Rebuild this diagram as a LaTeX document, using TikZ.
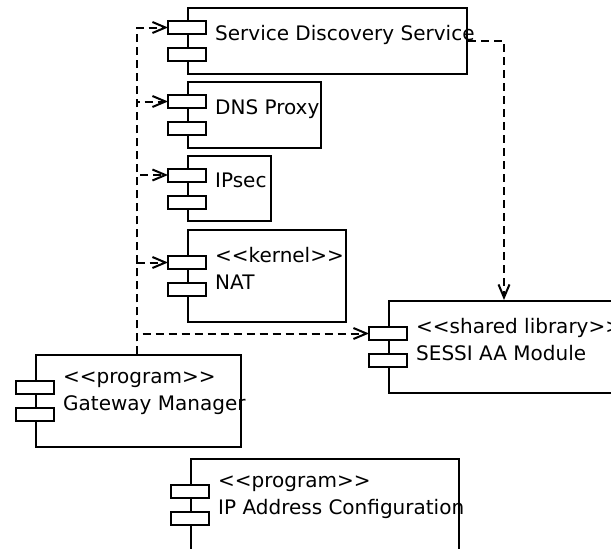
\documentclass[tikz,border=0pt]{standalone}
\usepackage{fontspec}
\newfontfamily\umlfont{DejaVu Sans}
\usetikzlibrary{arrows.meta, calc}

\tikzset{
  comp/.style={draw, rectangle, line width=2pt, anchor=north west, inner sep=0pt,
    label={[anchor=north west, xshift=28pt, yshift=-18pt, align=left, inner sep=0pt,
      font=\umlfont\fontsize{20}{27}\selectfont]north west:#1}},
  tab/.style={draw, line width=2pt, fill=white},
  dep/.style={line width=2pt, dash pattern=on 8pt off 5pt,
    -{Straight Barb[length=13pt, width=11pt]}}
}

\begin{document}
\begin{tikzpicture}[x=1pt, y=-1pt]
    \useasboundingbox (0,0) rectangle (611,549);
    \clip (0,0) rectangle (611,549);
    % Components
    \node[comp={Service Discovery Service}, minimum width=279pt, minimum height=66pt] (sds) at (187,7) {};
    \node[comp={DNS Proxy}, minimum width=133pt, minimum height=66pt] (dns) at (187,81) {};
    \node[comp={IPsec}, minimum width=83pt, minimum height=65pt] (ipsec) at (187,155) {};
    \node[comp={<<kernel>>\\NAT}, minimum width=158pt, minimum height=92pt] (nat) at (187,229) {};
    \node[comp={<<shared library>>\\SESSI AA Module}, minimum width=260pt, minimum height=92pt] (sessi) at (388,300) {};
    \node[comp={<<program>>\\Gateway Manager}, minimum width=205pt, minimum height=92pt] (gm) at (35,354) {};
    \node[comp={<<program>>\\IP Address Configuration}, minimum width=268pt, minimum height=92pt] (ipac) at (190,458) {};

    % Component tabs
    \foreach \n in {sds,dns,ipsec,nat,sessi,gm,ipac} {
        \draw[tab] ($(\n.west)+(-19,-20)$) rectangle ++(38,13);
        \draw[tab] ($(\n.west)+(-19,7)$) rectangle ++(38,13);
        \coordinate (\n-port) at ($(\n.west)+(-19,-13.5)$);
    }
    \coordinate (gm-top) at ($(gm.north west)+(102,0)$);
    \coordinate (sessi-top) at ($(sessi.north west)+(116,0)$);

    % Dependencies
    \foreach \n in {sds,dns,ipsec,nat,sessi}
        \draw[dep] (gm-top) |- (\n-port);
    \draw[dep] (sds.east) -| (sessi-top);
\end{tikzpicture}
\end{document}
